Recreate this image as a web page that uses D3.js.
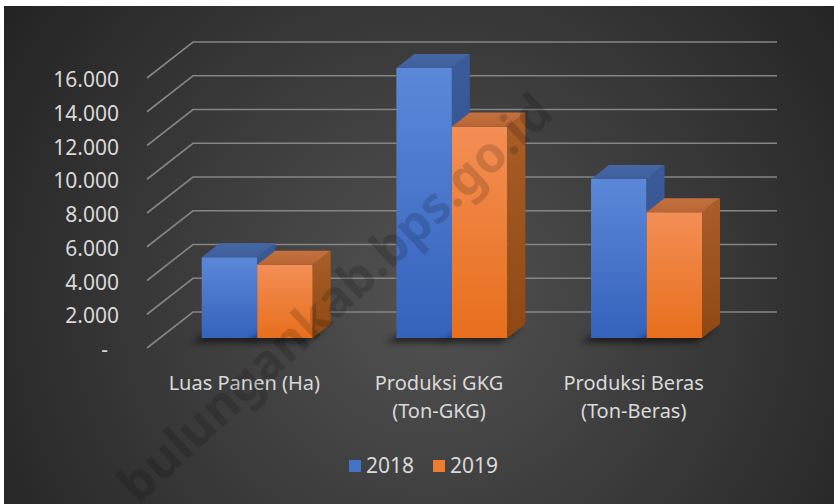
<!DOCTYPE html>
<html>
<head>
<meta charset="utf-8">
<script src="https://cdn.jsdelivr.net/npm/d3@7"></script>
<style>
  body { margin: 0; background: #fff; }
  svg { display: block; }
  text { font-family: "Noto Sans", sans-serif; fill: #d9d9d9; }
</style>
</head>
<body>
<div id="chart"></div>
<script>
// data
const categories = ["Luas Panen (Ha)", "Produksi GKG (Ton-GKG)", "Produksi Beras (Ton-Beras)"];
const years = ["2018", "2019"];
const values2018 = [4780, 15990, 9420];
const values2019 = [4330, 12520, 7440];
const yTicks = [0, 2000, 4000, 6000, 8000, 10000, 12000, 14000, 16000];

const width = 834, height = 504;
const dx = 46, dy = -36;      // depth of the 3d box
const z0 = 0.28, z1 = 0.67;   // where the bars sit inside the depth

const svg = d3.select("#chart").append("svg")
    .attr("width", width)
    .attr("height", height);

const defs = svg.append("defs");

let bg = defs.append("radialGradient")
    .attr("id", "bg")
    .attr("gradientUnits", "userSpaceOnUse")
    .attr("cx", 430).attr("cy", 300).attr("r", 520);
bg.append("stop").attr("offset", "0%").attr("stop-color", "#525252");
bg.append("stop").attr("offset", "100%").attr("stop-color", "#232323");

// face colours per year: front gradient top/bottom, top face, side face
const faces = {
    "2018": {front: ["#5c88d9", "#3562bb"], top: ["#4667a6", "#3f5f9c"], side: ["#3b5c9a", "#2c4a85"]},
    "2019": {front: ["#f38e55", "#e76f1c"], top: ["#c4703f", "#b96634"], side: ["#ab5e28", "#8e4814"]}
};
years.forEach(yr => {
    ["front", "top", "side"].forEach(f => {
        let g = defs.append("linearGradient")
            .attr("id", `g-${yr}-${f}`)
            .attr("x1", 0).attr("y1", 0).attr("x2", 0).attr("y2", 1);
        g.append("stop").attr("offset", "0%").attr("stop-color", faces[yr][f][0]);
        g.append("stop").attr("offset", "100%").attr("stop-color", faces[yr][f][1]);
    });
});

defs.append("filter")
    .attr("id", "blur")
    .attr("x", "-50%").attr("y", "-50%").attr("width", "200%").attr("height", "200%")
    .append("feGaussianBlur")
    .attr("stdDeviation", 3);

svg.append("rect")
    .attr("x", 4).attr("y", 6)
    .attr("width", width - 4).attr("height", height - 6)
    .attr("fill", "url(#bg)");

// scales
let x = d3.scaleBand()
    .domain(categories)
    .range([147, 731]);

let xInner = d3.scaleBand()
    .domain(years)
    .range([0, x.bandwidth()])
    .paddingOuter(0.754);

let y = d3.scaleLinear()
    .domain([0, 16000])
    .range([348, 78]);

const pt = (px, v, z) => [px + z * dx, y(v) + z * dy];

// walls: side wall diagonals + back wall lines
const xBackEnd = x.range()[1] + dx;
svg.append("g")
    .selectAll("path")
    .data(yTicks)
    .enter()
    .append("path")
    .attr("d", d => {
        let a = pt(x.range()[0], d, 0), b = pt(x.range()[0], d, 1);
        return `M${a}L${b}L${xBackEnd},${b[1]}`;
    })
    .attr("fill", "none")
    .attr("stroke", "#858585")
    .attr("stroke-width", 1.6);

// y axis labels
const fmt = d3.formatLocale({decimal: ",", thousands: ".", grouping: [3], currency: ["", ""]}).format(",");
let yAxis = d3.axisLeft(y)
    .tickValues(yTicks)
    .tickSize(0)
    .tickPadding(0)
    .tickFormat(d => d === 0 ? "-" : fmt(d));

let yg = svg.append("g")
    .attr("transform", "translate(119, 2)")
    .call(yAxis);
yg.select(".domain").remove();
yg.selectAll("text")
    .attr("fill", null)
    .style("font-size", "21px")
    .attr("dx", d => d === 0 ? -11 : 0);

// bars
let rows = [];
categories.forEach((c, i) => {
    rows.push({cat: c, year: "2018", value: values2018[i]});
    rows.push({cat: c, year: "2019", value: values2019[i]});
});

let barG = svg.append("g");
rows.forEach(d => {
    let xa = x(d.cat) + xInner(d.year);
    let xb = xa + xInner.bandwidth();
    let poly = pts => pts.map(p => p.join(",")).join(" ");

    // soft shadow on the floor
    barG.append("polygon")
        .attr("points", poly([pt(xa - 6, 0, z0 - 0.02), pt(xb - 2, 0, z0 - 0.02), pt(xb, 0, z1), pt(xa, 0, z1)]))
        .attr("transform", "translate(-4, 4)")
        .attr("fill", "#000")
        .attr("opacity", 0.55)
        .attr("filter", "url(#blur)");

    barG.append("polygon")
        .attr("points", poly([pt(xa, d.value, z0), pt(xb, d.value, z0), pt(xb, 0, z0), pt(xa, 0, z0)]))
        .attr("fill", `url(#g-${d.year}-front)`);
    barG.append("polygon")
        .attr("points", poly([pt(xa, d.value, z0), pt(xb, d.value, z0), pt(xb, d.value, z1), pt(xa, d.value, z1)]))
        .attr("fill", `url(#g-${d.year}-top)`);
    barG.append("polygon")
        .attr("points", poly([pt(xb, d.value, z0), pt(xb, 0, z0), pt(xb, 0, z1), pt(xb, d.value, z1)]))
        .attr("fill", `url(#g-${d.year}-side)`);
});

// category labels, long ones wrap before the bracket
let catG = svg.append("g");
categories.forEach(c => {
    let lines = c.length > 16 ? [c.slice(0, c.indexOf(" (")), c.slice(c.indexOf(" (") + 1)] : [c];
    let t = catG.append("text")
        .attr("text-anchor", "middle")
        .style("font-size", "20px");
    lines.forEach((l, i) => {
        t.append("tspan")
            .attr("x", x(c) + x.bandwidth() / 2)
            .attr("y", 390 + i * 28)
            .text(l);
    });
});

// legend
const legendColors = ["#4472c4", "#ed7d31"];
let legend = svg.append("g")
    .selectAll("g")
    .data(years)
    .enter()
    .append("g")
    .attr("transform", (d, i) => `translate(${349 + i * 84}, 460)`);
legend.append("rect")
    .attr("width", 12).attr("height", 12)
    .attr("fill", (d, i) => legendColors[i]);
legend.append("text")
    .attr("x", 17).attr("y", 13)
    .style("font-size", "21px")
    .text(d => d);

// watermark
svg.append("text")
    .attr("transform", "translate(335, 298) rotate(-43)")
    .attr("text-anchor", "middle")
    .attr("dy", "0.35em")
    .style("font-size", "50px")
    .style("font-weight", "bold")
    .style("fill", "#000")
    .style("opacity", 0.15)
    .text("bulungankab.bps.go.id");
</script>
</body>
</html>
